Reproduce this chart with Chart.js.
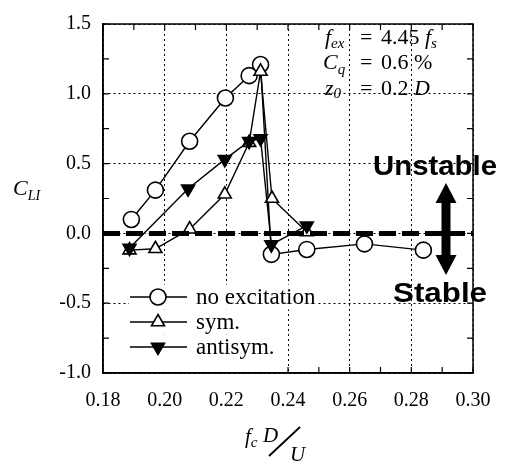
<!DOCTYPE html>
<html>
<head>
<meta charset="utf-8">
<script src="https://cdn.jsdelivr.net/npm/chart.js@4/dist/chart.umd.min.js"></script>
<style>
  html, body { margin: 0; padding: 0; background: #fff; }
  #wrap { width: 508px; height: 465px; }
</style>
</head>
<body>
<div id="wrap"><canvas id="chart" width="508" height="465"></canvas></div>
<script>
// values
const noExcX = [0.1892, 0.197, 0.2081, 0.2197, 0.2274, 0.2311, 0.2346, 0.2461, 0.2648, 0.2839];
const noExcY = [0.10, 0.31, 0.66, 0.97, 1.13, 1.21, -0.15, -0.115, -0.075, -0.12];

const symX = [0.1886, 0.197, 0.2081, 0.2195, 0.2274, 0.2311, 0.2348, 0.2461];
const symY = [-0.12, -0.11, 0.03, 0.28, 0.65, 1.16, 0.25, 0.01];

const antiX = [0.1886, 0.2076, 0.2195, 0.2274, 0.2311, 0.2346, 0.2461];
const antiY = [-0.105, 0.32, 0.53, 0.66, 0.68, -0.08, 0.055];

const xTicks = [0.18, 0.20, 0.22, 0.24, 0.26, 0.28, 0.30];
const yTicks = [-1.0, -0.5, 0.0, 0.5, 1.0, 1.5];

const seriesNames = ['no excitation', 'sym.', 'antisym.'];

const SERIF = "'Liberation Serif', 'Times New Roman', serif";
const SANS = "'Liberation Sans', Arial, sans-serif";

function pts(xs, ys) {
    return xs.map((x, i) => ({ x: x, y: ys[i] }));
}

// small helper for drawing marker shapes (same geometry as Chart.js)
function drawMarker(ctx, style, rotation, r, x, y, fill) {
    ctx.beginPath();
    if (style === 'circle') {
        ctx.arc(x, y, r, 0, Math.PI * 2);
    } else {
        let rad = rotation * Math.PI / 180;
        ctx.moveTo(x + Math.sin(rad) * r, y - Math.cos(rad) * r);
        rad += Math.PI * 2 / 3;
        ctx.lineTo(x + Math.sin(rad) * r, y - Math.cos(rad) * r);
        rad += Math.PI * 2 / 3;
        ctx.lineTo(x + Math.sin(rad) * r, y - Math.cos(rad) * r);
        ctx.closePath();
    }
    ctx.fillStyle = fill;
    ctx.fill();
    ctx.stroke();
}

// draws a run of text pieces: [text, font, dy]
function drawRun(ctx, x, y, pieces) {
    pieces.forEach(p => {
        ctx.font = p[1];
        ctx.fillText(p[0], x, y + (p[2] || 0));
        x += ctx.measureText(p[0]).width;
    });
}

const decorPlugin = {
    id: 'decor',
    beforeDatasetsDraw(chart) {
        const ctx = chart.ctx;
        const a = chart.chartArea;
        const xs = chart.scales.x, ys = chart.scales.y;
        ctx.save();
        ctx.strokeStyle = '#000';
        ctx.lineWidth = 1.2;
        // inward tick marks on all four sides
        ctx.beginPath();
        for (let i = 0; i <= 12; i++) {
            const px = xs.getPixelForValue(0.18 + i * 0.01);
            ctx.moveTo(px, a.bottom); ctx.lineTo(px, a.bottom - 6);
            ctx.moveTo(px, a.top); ctx.lineTo(px, a.top + 6);
        }
        for (let i = 0; i <= 10; i++) {
            const py = ys.getPixelForValue(-1.0 + i * 0.25);
            ctx.moveTo(a.left, py); ctx.lineTo(a.left + 6, py);
            ctx.moveTo(a.right, py); ctx.lineTo(a.right - 6, py);
        }
        ctx.stroke();
        ctx.restore();
    },
    afterDatasetsDraw(chart) {
        const ctx = chart.ctx;
        ctx.save();
        ctx.fillStyle = '#000';
        ctx.textBaseline = 'alphabetic';
        ctx.textAlign = 'left';

        // parameter block, top right
        const it = (s) => 'italic ' + s + 'px ' + SERIF;
        const rg = (s) => s + 'px ' + SERIF;
        drawRun(ctx, 325, 44, [['f', it(22)], ['ex', it(15), 4]]);
        drawRun(ctx, 360, 44, [['=', rg(22)]]);
        drawRun(ctx, 381, 44, [['4.45 ', rg(22)], ['f', it(22)], ['s', it(15), 4]]);
        drawRun(ctx, 323, 69, [['C', it(22)], ['q', it(15), 5]]);
        drawRun(ctx, 360, 69, [['=', rg(22)]]);
        drawRun(ctx, 381, 69, [['0.6 %', rg(22)]]);
        drawRun(ctx, 325, 95, [['z', it(22)], ['0', it(15), 3]]);
        drawRun(ctx, 360, 95, [['=', rg(22)]]);
        drawRun(ctx, 381, 95, [['0.2 ', rg(22)], ['D', it(22)]]);

        // Unstable / Stable labels with double arrow
        ctx.font = 'bold 28px ' + SANS;
        const fitText = (txt, x0, x1, y) => {
            const w = ctx.measureText(txt).width;
            ctx.save();
            ctx.translate(x0, y);
            ctx.scale((x1 - x0) / w, 1);
            ctx.fillText(txt, 0, 0);
            ctx.restore();
        };
        fitText('Unstable', 373, 497, 175);
        fitText('Stable', 393, 487, 302);

        const ax = 446, top = 183, bot = 275, hh = 20, hw = 10.5, sw = 4.5;
        ctx.beginPath();
        ctx.moveTo(ax, top);
        ctx.lineTo(ax + hw, top + hh);
        ctx.lineTo(ax + sw, top + hh);
        ctx.lineTo(ax + sw, bot - hh);
        ctx.lineTo(ax + hw, bot - hh);
        ctx.lineTo(ax, bot);
        ctx.lineTo(ax - hw, bot - hh);
        ctx.lineTo(ax - sw, bot - hh);
        ctx.lineTo(ax - sw, top + hh);
        ctx.lineTo(ax - hw, top + hh);
        ctx.closePath();
        ctx.fill();

        // legend inside the plot, lower left
        ctx.font = '23px ' + SERIF;
        ctx.textBaseline = 'middle';
        const rows = chart.data.datasets.filter(d => d.label);
        rows.forEach((d, i) => {
            const cy = 297 + i * 25;
            const tw = ctx.measureText(d.label).width;
            ctx.fillStyle = '#fff';
            const h = i === rows.length - 1 ? 372 - (cy - 12.5) : 25;
            ctx.fillRect(129, cy - 12.5, 196 + tw + 2 - 129, h);
            ctx.strokeStyle = '#000';
            ctx.lineWidth = 1.4;
            ctx.beginPath();
            ctx.moveTo(130, cy); ctx.lineTo(187, cy);
            ctx.stroke();
            ctx.lineWidth = d.pointBorderWidth;
            drawMarker(ctx, d.pointStyle, d.pointRotation || 0, d.pointRadius, 158, cy, d.pointBackgroundColor);
            ctx.fillStyle = '#000';
            ctx.fillText(d.label, 196, cy + 1);
        });
        ctx.restore();
    },
    afterDraw(chart) {
        const ctx = chart.ctx;
        const a = chart.chartArea;
        ctx.save();
        ctx.strokeStyle = '#000';
        ctx.lineWidth = 1.5;
        ctx.strokeRect(a.left, a.top, a.right - a.left, a.bottom - a.top);

        ctx.fillStyle = '#000';
        ctx.textBaseline = 'alphabetic';
        // y axis title  C_LI
        drawRun(ctx, 13, 195, [['C', 'italic 22px ' + SERIF], ['LI', 'italic 14px ' + SERIF, 5]]);
        // x axis title  f_c D / U
        drawRun(ctx, 245, 443, [['f', 'italic 21px ' + SERIF], ['c', 'italic 15px ' + SERIF, 4]]);
        ctx.font = 'italic 21px ' + SERIF;
        ctx.fillText('D', 263, 442);
        ctx.fillText('U', 290, 461);
        ctx.lineWidth = 1.8;
        ctx.beginPath();
        ctx.moveTo(269, 456);
        ctx.lineTo(300, 427);
        ctx.stroke();
        ctx.restore();
    }
};

const ctx = document.getElementById('chart').getContext('2d');
const chart = new Chart(ctx, {
    type: 'line',
    data: {
        datasets: [
            {
                label: '',
                data: [{ x: xTicks[0], y: 0 }, { x: xTicks[xTicks.length - 1], y: 0 }],
                borderColor: '#000',
                borderWidth: 5,
                borderDash: [17, 6],
                pointRadius: 0,
                order: 0
            },
            {
                label: seriesNames[0],
                data: pts(noExcX, noExcY),
                borderColor: '#000',
                borderWidth: 1.4,
                pointStyle: 'circle',
                pointRadius: 8,
                pointBorderWidth: 1.6,
                pointBorderColor: '#000',
                pointBackgroundColor: '#fff',
                order: 3
            },
            {
                label: seriesNames[1],
                data: pts(symX, symY),
                borderColor: '#000',
                borderWidth: 1.4,
                pointStyle: 'triangle',
                pointRadius: 7.5,
                pointBorderWidth: 1.6,
                pointBorderColor: '#000',
                pointBackgroundColor: '#fff',
                order: 2
            },
            {
                label: seriesNames[2],
                data: pts(antiX, antiY),
                borderColor: '#000',
                borderWidth: 1.4,
                pointStyle: 'triangle',
                pointRotation: 180,
                pointRadius: 7.5,
                pointBorderWidth: 1.6,
                pointBorderColor: '#000',
                pointBackgroundColor: '#000',
                order: 1
            }
        ]
    },
    options: {
        responsive: false,
        devicePixelRatio: 1,
        animation: false,
        layout: { padding: { top: 10, right: 35, left: 0, bottom: 0 } },
        elements: { line: { tension: 0 } },
        scales: {
            x: {
                type: 'linear',
                min: xTicks[0],
                max: xTicks[xTicks.length - 1],
                afterBuildTicks: s => { s.ticks = xTicks.map(v => ({ value: v })); },
                afterFit: s => { s.height = 92; },
                ticks: {
                    callback: v => v.toFixed(2),
                    font: { family: SERIF, size: 20 },
                    color: '#000',
                    padding: 16,
                    maxRotation: 0
                },
                grid: { color: '#000', lineWidth: 1, drawTicks: false },
                border: { display: true, color: '#000', width: 1.5, dash: [2, 3] }
            },
            y: {
                min: yTicks[0],
                max: yTicks[yTicks.length - 1],
                afterBuildTicks: s => { s.ticks = yTicks.map(v => ({ value: v })); },
                afterFit: s => { s.width = 103; },
                ticks: {
                    callback: v => v.toFixed(1),
                    font: { family: SERIF, size: 20 },
                    color: '#000',
                    padding: 12
                },
                grid: { color: '#000', lineWidth: 1, drawTicks: false },
                border: { display: true, color: '#000', width: 1.5, dash: [2, 3] }
            }
        },
        plugins: {
            legend: { display: false },
            tooltip: { enabled: false }
        }
    },
    plugins: [decorPlugin]
});
</script>
</body>
</html>
